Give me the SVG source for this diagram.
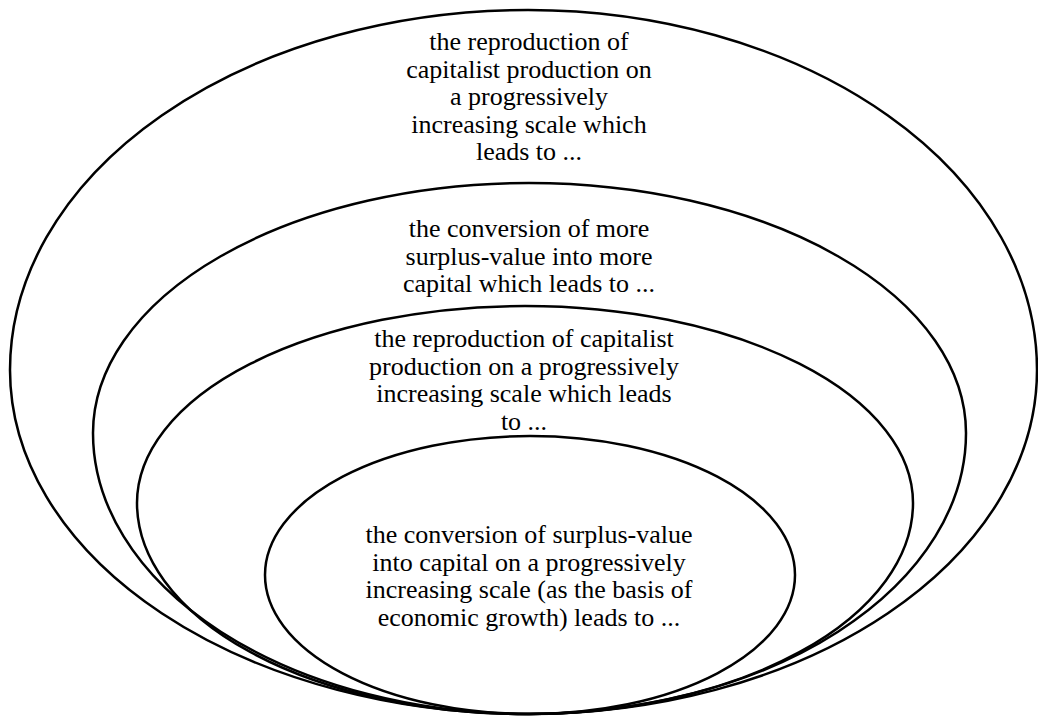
<svg xmlns="http://www.w3.org/2000/svg" width="1038" height="716" viewBox="0 0 1038 716">
  <style>
    .ring { fill: none; stroke: #000; stroke-width: 2.5; }
    .label { font-family: "Liberation Serif", "Times New Roman", serif; font-size: 26px; fill: #000; text-anchor: middle; }
  </style>
  <rect width="1038" height="716" fill="#fff"/>

  <!-- nested rings, all meeting at the bottom -->
  <g id="ring-outer">
    <path class="ring" d="M10,370 A518,360 0 0 1 528,10 A509,360 0 0 1 1037,370 A509,344 0 0 1 528,714 A518,344 0 0 1 10,370 Z"/>
    <text class="label" x="529" y="50">the reproduction of</text>
    <text class="label" x="529" y="77.5">capitalist production on</text>
    <text class="label" x="529" y="105">a progressively</text>
    <text class="label" x="529" y="132.5">increasing scale which</text>
    <text class="label" x="529" y="160">leads to ...</text>
  </g>

  <g id="ring-second">
    <path class="ring" d="M93,433 A436,250 0 0 1 529,183 A437,250 0 0 1 966,433 A437,281 0 0 1 529,714 A436,281 0 0 1 93,433 Z"/>
    <text class="label" x="529" y="237">the conversion of more</text>
    <text class="label" x="529" y="264.5">surplus-value into more</text>
    <text class="label" x="529" y="292">capital which leads to ...</text>
  </g>

  <g id="ring-third">
    <path class="ring" d="M137,503 A388,197 0 0 1 525,306 A388,197 0 0 1 913,503 A388,211 0 0 1 525,714 A388,211 0 0 1 137,503 Z"/>
    <text class="label" x="524" y="347">the reproduction of capitalist</text>
    <text class="label" x="524" y="374.5">production on a progressively</text>
    <text class="label" x="524" y="402">increasing scale which leads</text>
    <text class="label" x="524" y="429.5">to ...</text>
  </g>

  <g id="ring-inner">
    <ellipse class="ring" cx="530" cy="575" rx="265" ry="139"/>
    <text class="label" x="529" y="543">the conversion of surplus-value</text>
    <text class="label" x="529" y="570.5">into capital on a progressively</text>
    <text class="label" x="529" y="598">increasing scale (as the basis of</text>
    <text class="label" x="529" y="625.5">economic growth) leads to ...</text>
  </g>

  <g id="connectors"/>
</svg>
